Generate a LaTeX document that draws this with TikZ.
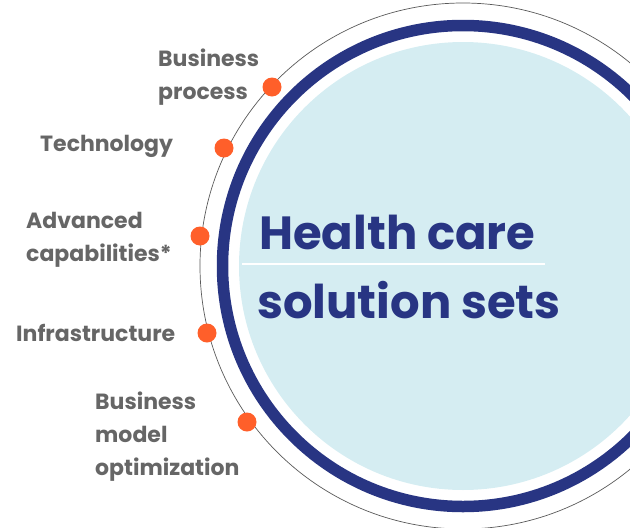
\documentclass[tikz,border=0pt]{standalone}
\usepackage{fontspec}
\setmainfont{Poppins}
\usepackage{tikz}
\definecolor{navy}{HTML}{283583}
\definecolor{paleblue}{HTML}{D5EDF2}
\definecolor{dotorange}{HTML}{FF5F2A}
\definecolor{labelgray}{HTML}{666666}
\tikzset{
  dot/.style={circle,fill=dotorange,inner sep=0pt,minimum size=19pt},
  area/.style={anchor=west,align=left,inner sep=0pt,text=labelgray,
    font=\bfseries\fontsize{22}{33}\selectfont},
  title/.style={anchor=base west,inner sep=0pt,text=navy,
    font=\bfseries\fontsize{46.5}{60}\selectfont}
}

\begin{document}
\begin{tikzpicture}[x=1pt,y=-1pt]
\useasboundingbox (0,0) rectangle (630,528);
\clip (0,0) rectangle (630,528);
% rings
\coordinate (c) at (463,266);
\fill[paleblue] (c) circle[radius=224pt];
\draw[navy,line width=11.5pt] (c) circle[radius=240.5pt];
\draw[black!65,line width=0.7pt] (c) circle[radius=263pt];
\draw[white,line width=1.2pt] (242,264) -- (545,264);
% title
\node[title] (title1) at (259,249) {Health care};
\node[title] (title2) at (257,318) {solution sets};
% dots on the outer ring
\node[dot] (dprocess) at (272,87) {};
\node[dot] (dtech) at (224,148) {};
\node[dot] (dadv) at (200,236) {};
\node[dot] (dinfra) at (207,333) {};
\node[dot] (dmodel) at (247,422) {};
% labels
\node[area] (process) at (158,77) {Business\\process};
\node[area] (tech) at (40,146) {Technology};
\node[area] (adv) at (26,240) {Advanced\\capabilities*};
\node[area] (infra) at (16,333) {Infrastructure};
\node[area] (model) at (95,437) {Business\\model\\optimization};
\end{tikzpicture}
\end{document}
